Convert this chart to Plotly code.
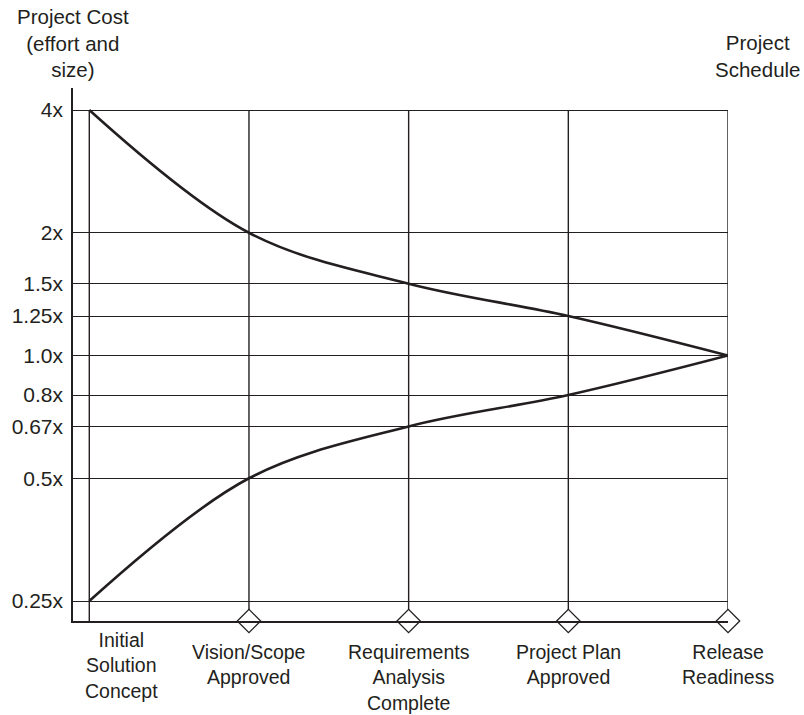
import math
import plotly.graph_objects as go

# milestones along the project timeline
milestones = ["Initial Solution Concept", "Vision/Scope Approved",
              "Requirements Analysis Complete", "Project Plan Approved",
              "Release Readiness"]
milestone_labels = ["Initial<br>Solution<br>Concept", "Vision/Scope<br>Approved",
                    "Requirements<br>Analysis<br>Complete", "Project Plan<br>Approved",
                    "Release<br>Readiness"]

# cone of uncertainty (cost multipliers)
cost_high = [4, 2, 1.5, 1.25, 1.0]
cost_low = [0.25, 0.5, 0.67, 0.8, 1.0]

# axis ticks
cost_ticks = [4, 2, 1.5, 1.25, 1.0, 0.8, 0.67, 0.5, 0.25]
cost_labels = ["4x", "2x", "1.5x", "1.25x", "1.0x", "0.8x", "0.67x", "0.5x", "0.25x"]
schedule_labels = ["1.6x", "1.25x", "1.5x", "1.25x", "1.0x", "0.9x", "0.85x", "0.8x", "0.6x"]

INK = "#231f20"
FONT = "Liberation Sans, Arial, Helvetica, sans-serif"
y_range = [math.log10(0.25) - 0.049, math.log10(4) + 0.054]
y_bottom = 10 ** y_range[0]

fig = go.Figure()

# vertical milestone lines, from the top gridline down to the bottom axis
vx, vy = [], []
for m in milestones:
    vx += [m, m, None]
    vy += [cost_high[0], y_bottom, None]
fig.add_trace(go.Scatter(x=vx, y=vy, mode="lines", line=dict(color=INK, width=1.4),
                         hoverinfo="skip", showlegend=False))

for series in (cost_high, cost_low):
    fig.add_trace(go.Scatter(x=milestones, y=series, mode="lines",
                             line=dict(color=INK, width=2.6, shape="spline", smoothing=1.0),
                             showlegend=False))

# diamond markers on the time axis (not on the first milestone)
fig.add_trace(go.Scatter(x=milestones[1:], y=[0] * (len(milestones) - 1), yaxis="y3",
                         mode="markers", cliponaxis=False, hoverinfo="skip",
                         marker=dict(symbol="diamond", size=18, color="white",
                                     line=dict(color=INK, width=1.3)),
                         showlegend=False))

tick_font = dict(family=FONT, size=21, color=INK)
title_font = dict(family=FONT, size=20.5, color=INK)
label_font = dict(family=FONT, size=19.5, color=INK)

fig.update_layout(
    width=804, height=715,
    margin=dict(l=73, r=76, t=88, b=94),
    paper_bgcolor="white", plot_bgcolor="white",
    font=dict(family=FONT, color=INK),
    xaxis=dict(type="category", categoryorder="array", categoryarray=milestones,
               range=[-0.102, 4], showgrid=False, showticklabels=False, ticks="",
               showline=True, linecolor=INK, linewidth=1.5, zeroline=False),
    yaxis=dict(type="log", range=y_range, tickvals=cost_ticks, ticktext=cost_labels,
               showgrid=True, gridcolor=INK, gridwidth=1.4, ticks="",
               showline=True, linecolor=INK, linewidth=1.5, zeroline=False,
               tickfont=tick_font, ticklabelstandoff=4, automargin=False),
    yaxis2=dict(type="log", range=y_range, overlaying="y", side="right",
                tickvals=cost_ticks, ticktext=schedule_labels, showgrid=False,
                ticks="", showline=True, linecolor=INK, linewidth=1.5,
                zeroline=False, tickfont=tick_font, ticklabelstandoff=8,
                automargin=False),
    yaxis3=dict(range=[0, 1], overlaying="y", visible=False),
)

# axis titles
fig.add_annotation(text="Project Cost<br>(effort and<br>size)", xref="paper", yref="paper",
                   x=0, y=1, xanchor="center", yanchor="bottom", yshift=5,
                   showarrow=False, font=title_font)
fig.add_annotation(text="Project<br>Schedule", xref="paper", yref="paper",
                   x=1, y=1, xanchor="center", yanchor="bottom", xshift=29, yshift=5,
                   showarrow=False, font=title_font)

# milestone labels under the time axis
for i, (m, lab) in enumerate(zip(milestones, milestone_labels)):
    fig.add_annotation(text=lab, x=m, xref="x", y=0, yref="paper",
                       xanchor="center", yanchor="top",
                       xshift=32 if i == 0 else 0, yshift=-6 if i == 0 else -18,
                       showarrow=False, font=label_font)

# drop the default body margin so the 804x715 figure fills the window
fig.write_html("out.html", config={"displayModeBar": False},
               post_script="document.body.style.margin='0';")
